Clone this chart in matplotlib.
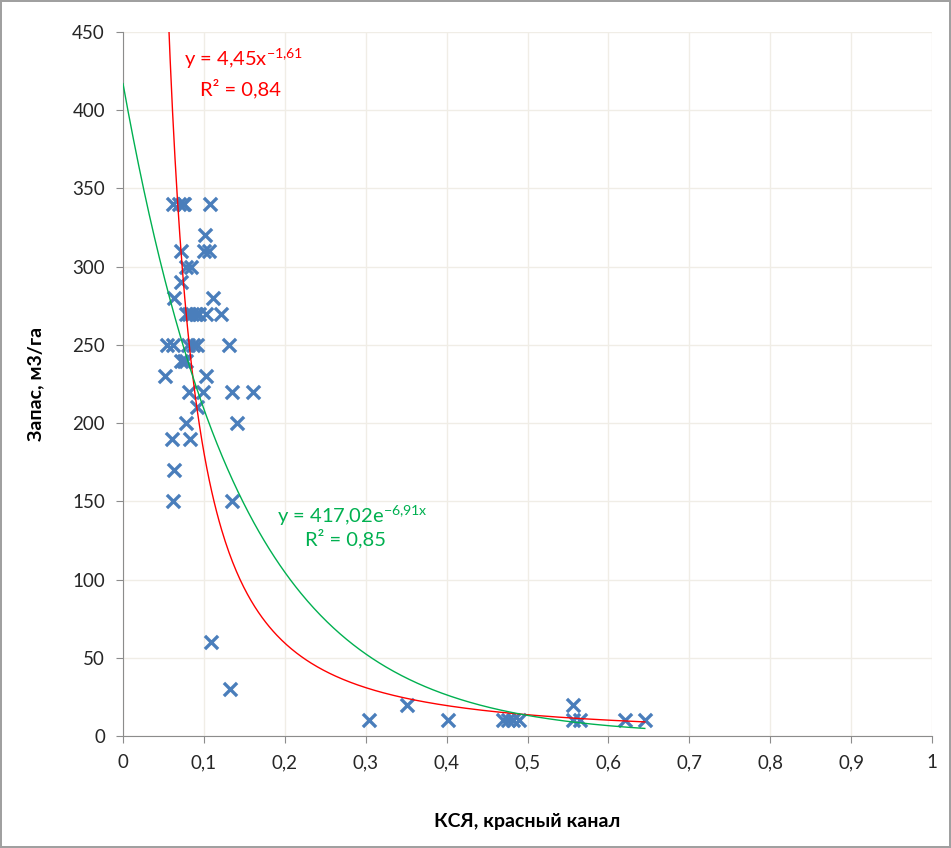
import numpy as np
import matplotlib.pyplot as plt
from matplotlib.ticker import FuncFormatter

plt.rcParams['font.family'] = ['Lato', 'DejaVu Sans']
plt.rcParams['mathtext.default'] = 'regular'

# КСЯ (red channel) vs stock, m3/ha
ksya = [0.062, 0.069, 0.074, 0.076, 0.108,
        0.101,
        0.072, 0.100, 0.106,
        0.078, 0.084,
        0.072,
        0.063, 0.111,
        0.078, 0.082, 0.085, 0.090, 0.094, 0.103, 0.121,
        0.055, 0.062, 0.080, 0.087, 0.091, 0.131,
        0.072, 0.075, 0.078,
        0.052, 0.103,
        0.082, 0.099, 0.135, 0.161,
        0.091,
        0.078, 0.141,
        0.061, 0.083,
        0.063,
        0.062, 0.135,
        0.109,
        0.132,
        0.351, 0.556,
        0.304, 0.402, 0.470, 0.476, 0.482, 0.489, 0.556, 0.565, 0.621, 0.645]
zapas = [340, 340, 340, 340, 340,
         320,
         310, 310, 310,
         300, 300,
         290,
         280, 280,
         270, 270, 270, 270, 270, 270, 270,
         250, 250, 250, 250, 250, 250,
         240, 240, 240,
         230, 230,
         220, 220, 220, 220,
         210,
         200, 200,
         190, 190,
         170,
         150, 150,
         60,
         30,
         20, 20,
         10, 10, 10, 10, 10, 10, 10, 10, 10, 10]

# trend line coefficients
pow_a, pow_b = 4.45, -1.61
exp_a, exp_b = 417.02, -6.91

fig = plt.figure(figsize=(9.51, 8.48), dpi=100)
fig.patch.set_edgecolor('#a0a0a0')
fig.patch.set_linewidth(1.5)
ax = fig.add_axes([123 / 951, 1 - 736 / 848, 809 / 951, 704 / 848])

ax.scatter(ksya, zapas, marker='x', s=90, linewidths=2.4, color='#4a7ebb', zorder=3)

x_max = max(ksya)
xp = np.linspace(0.04, x_max, 400)
ax.plot(xp, pow_a * xp ** pow_b, color='#ff0000', lw=1, zorder=4)
xe = np.linspace(0, x_max, 400)
ax.plot(xe, exp_a * np.exp(exp_b * xe), color='#00b050', lw=1, zorder=4)

ax.text(0.076, 433, r'y = 4,45x$^{-1{,}61}$', color='#ff0000', fontsize=14.5, va='center')
ax.text(0.095, 414, 'R² = 0,84', color='#ff0000', fontsize=14.5, va='center')
ax.text(0.190, 141, r'y = 417,02e$^{-6{,}91x}$', color='#00b050', fontsize=14.5, va='center')
ax.text(0.225, 126, 'R² = 0,85', color='#00b050', fontsize=14.5, va='center')

ax.set_xlim(0, 1)
ax.set_ylim(0, 450)
ax.set_xticks(np.arange(0, 1.01, 0.1))
ax.set_yticks(np.arange(0, 451, 50))
ax.xaxis.set_major_formatter(FuncFormatter(lambda v, p: f'{v:g}'.replace('.', ',')))
ax.grid(True, color='#f0ede6', lw=1)
ax.set_axisbelow(True)

for side in ['top', 'right']:
    ax.spines[side].set_visible(False)
for side in ['left', 'bottom']:
    ax.spines[side].set_color('#8c8c8c')
ax.tick_params(direction='out', length=5, color='#8c8c8c', labelsize=13.5, pad=8,
               labelcolor='#262626')

ax.set_xlabel('КСЯ, красный канал', fontsize=14, fontweight='bold', labelpad=30)
ax.set_ylabel('Запас, м3/га', fontsize=14, fontweight='bold', labelpad=20)

fig.savefig('out.png', dpi=100, edgecolor=fig.get_edgecolor())
